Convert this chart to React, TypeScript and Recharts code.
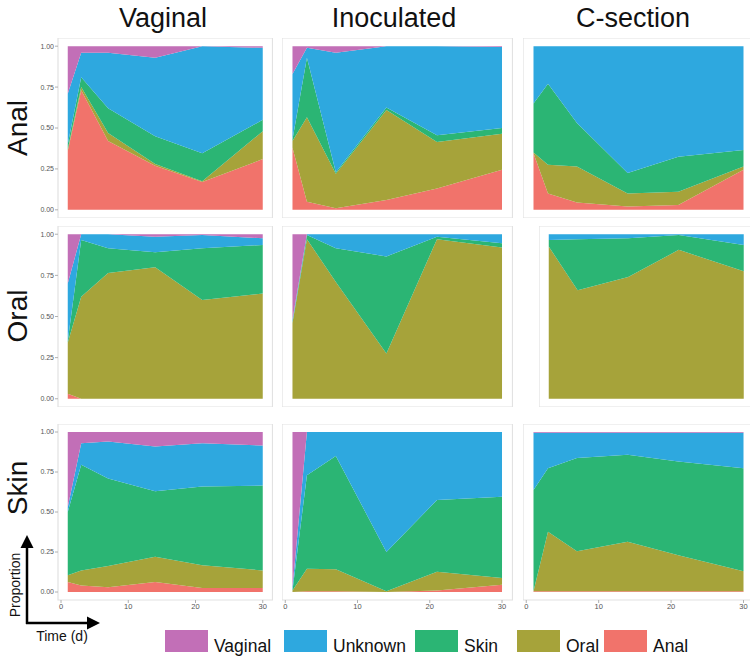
import { AreaChart, Area, XAxis, YAxis, ReferenceArea } from "recharts";

const days = [1, 3, 7, 14, 21, 30];
const daysFrom3 = [3, 7, 14, 21, 30];

// stacking order, bottom to top
const sources = ["Anal", "Oral", "Skin", "Unknown", "Vaginal"];
const legendOrder = ["Vaginal", "Unknown", "Skin", "Oral", "Anal"];
const colors: Record<string, string> = {
  Vaginal: "#c26fb7",
  Unknown: "#2ea8df",
  Skin: "#2bb574",
  Oral: "#a6a33a",
  Anal: "#f1736b",
};

const birthModes = ["Vaginal", "Inoculated", "C-section"];
const sites = ["Anal", "Oral", "Skin"];
const yTicks = [0, 0.25, 0.5, 0.75, 1];
const xTicks = [0, 10, 20, 30];

// anal samples
const analVaginal = {
  Anal: [0.36, 0.73, 0.42, 0.27, 0.17, 0.31],
  Oral: [0.01, 0.02, 0.05, 0.01, 0.005, 0.17],
  Skin: [0.03, 0.06, 0.15, 0.17, 0.17, 0.07],
  Unknown: [0.31, 0.15, 0.34, 0.48, 0.655, 0.44],
  Vaginal: [0.29, 0.04, 0.04, 0.07, 0.0, 0.01],
};
const analInoculated = {
  Anal: [0.38, 0.05, 0.01, 0.06, 0.13, 0.245],
  Oral: [0.04, 0.515, 0.21, 0.55, 0.285, 0.22],
  Skin: [0.01, 0.365, 0.01, 0.015, 0.04, 0.035],
  Unknown: [0.4, 0.06, 0.73, 0.375, 0.545, 0.495],
  Vaginal: [0.17, 0.01, 0.04, 0.0, 0.0, 0.005],
};
const analCsection = {
  Anal: [0.345, 0.1, 0.045, 0.02, 0.03, 0.245],
  Oral: [0.005, 0.175, 0.22, 0.08, 0.08, 0.02],
  Skin: [0.3, 0.495, 0.265, 0.125, 0.215, 0.1],
  Unknown: [0.35, 0.23, 0.47, 0.775, 0.675, 0.635],
  Vaginal: [0, 0, 0, 0, 0, 0],
};

// oral samples
const oralVaginal = {
  Anal: [0.03, 0, 0, 0, 0, 0],
  Oral: [0.31, 0.62, 0.765, 0.8, 0.6, 0.64],
  Skin: [0.01, 0.345, 0.15, 0.09, 0.315, 0.295],
  Unknown: [0.35, 0.035, 0.085, 0.095, 0.08, 0.04],
  Vaginal: [0.3, 0, 0, 0.015, 0.005, 0.025],
};
const oralInoculated = {
  Anal: [0, 0, 0, 0, 0, 0],
  Oral: [0.46, 0.97, 0.71, 0.275, 0.97, 0.92],
  Skin: [0.005, 0.025, 0.205, 0.59, 0.015, 0.025],
  Unknown: [0.015, 0.005, 0.085, 0.135, 0.015, 0.055],
  Vaginal: [0.52, 0, 0, 0, 0, 0],
};
// no day-1 sample here
const oralCsection = {
  Anal: [0, 0, 0, 0, 0],
  Oral: [0.925, 0.66, 0.74, 0.905, 0.775],
  Skin: [0.04, 0.31, 0.235, 0.09, 0.16],
  Unknown: [0.035, 0.03, 0.025, 0.005, 0.065],
  Vaginal: [0, 0, 0, 0, 0],
};

// skin samples
const skinVaginal = {
  Anal: [0.063, 0.04, 0.03, 0.063, 0.025, 0.025],
  Oral: [0.042, 0.095, 0.133, 0.157, 0.142, 0.11],
  Skin: [0.395, 0.66, 0.547, 0.41, 0.493, 0.53],
  Unknown: [0.03, 0.135, 0.23, 0.28, 0.27, 0.25],
  Vaginal: [0.47, 0.07, 0.06, 0.09, 0.07, 0.085],
};
const skinInoculated = {
  Anal: [0, 0.005, 0.005, 0, 0.01, 0.045],
  Oral: [0.01, 0.141, 0.137, 0.004, 0.116, 0.043],
  Skin: [0, 0.584, 0.708, 0.246, 0.449, 0.508],
  Unknown: [0.02, 0.27, 0.15, 0.75, 0.425, 0.404],
  Vaginal: [0.97, 0, 0, 0, 0, 0],
};
const skinCsection = {
  Anal: [0.005, 0.005, 0.005, 0.005, 0.005, 0.005],
  Oral: [0, 0.372, 0.25, 0.309, 0.225, 0.125],
  Skin: [0.633, 0.397, 0.582, 0.544, 0.586, 0.644],
  Unknown: [0.357, 0.221, 0.158, 0.137, 0.179, 0.221],
  Vaginal: [0.005, 0.005, 0.005, 0.005, 0.005, 0.005],
};

const FONT = "'Liberation Sans', Arial, Helvetica, sans-serif";

const colBox = [
  { x: 58.25, w: 214.5 },
  { x: 282, w: 230.5 },
  { x: 522.5, w: 231 },
];
const rowBox = [
  { y: 38, h: 180 },
  { y: 226, h: 181 },
  { y: 424, h: 176 },
];

const panels = [
  { r: 0, c: 0, t: days, vals: analVaginal },
  { r: 0, c: 1, t: days, vals: analInoculated },
  { r: 0, c: 2, t: days, vals: analCsection },
  { r: 1, c: 0, t: days, vals: oralVaginal },
  { r: 1, c: 1, t: days, vals: oralInoculated },
  { r: 1, c: 2, t: daysFrom3, vals: oralCsection, x: 539.25, w: 214.5 },
  { r: 2, c: 0, t: days, vals: skinVaginal },
  { r: 2, c: 1, t: days, vals: skinInoculated },
  { r: 2, c: 2, t: days, vals: skinCsection },
];

function Panel({ x, y, w, h, t, vals, showY, showX }: any) {
  const lo = t[0];
  const hi = t[t.length - 1];
  const pad = (hi - lo) * 0.05;
  const data = t.map((d: number, i: number) => {
    const row: any = { day: d };
    sources.forEach((s) => (row[s] = vals[s][i]));
    return row;
  });
  const yw = showY ? 58 : 0;
  const xh = showX ? 16 : 0;
  return (
    <div style={{ position: "absolute", left: x - yw, top: y }}>
      <AreaChart width={w + yw} height={h + xh} data={data} margin={{ top: 0, right: 0, bottom: 0, left: 0 }}>
        <XAxis
          type="number"
          dataKey="day"
          domain={[lo - pad, hi + pad]}
          allowDataOverflow
          ticks={xTicks}
          interval={0}
          hide={!showX}
          height={xh}
          axisLine={false}
          tickSize={3}
          tickMargin={1}
          tickLine={{ stroke: "#b0b0b0" }}
          tick={{ fontSize: 7.5, fill: "#555", fontFamily: FONT }}
        />
        <YAxis
          type="number"
          domain={[-0.05, 1.05]}
          allowDataOverflow
          ticks={yTicks}
          interval={0}
          hide={!showY}
          width={yw}
          axisLine={false}
          tickSize={3}
          tickMargin={1}
          tickLine={{ stroke: "#b0b0b0" }}
          tick={{ fontSize: 7, fill: "#555", fontFamily: FONT }}
          tickFormatter={(v: number) => v.toFixed(2)}
        />
        <ReferenceArea
          x1={lo - pad}
          x2={hi + pad}
          y1={-0.05}
          y2={1.05}
          fill="#ffffff"
          fillOpacity={0}
          stroke="#e2e2e2"
          strokeWidth={1.2}
          ifOverflow="visible"
        />
        {sources.map((s) => (
          <Area
            key={s}
            type="linear"
            dataKey={s}
            stackId="1"
            stroke="none"
            fill={colors[s]}
            fillOpacity={1}
            isAnimationActive={false}
            activeDot={false}
          />
        ))}
      </AreaChart>
    </div>
  );
}

const titleX = [163, 394, 633];
const rowLabelY = [128, 316, 488];
const legendKeyX = [165, 284, 415, 517, 604];

export default function App() {
  return (
    <div
      style={{
        position: "absolute",
        left: 0,
        top: 0,
        width: 750,
        height: 658,
        overflow: "hidden",
        background: "#fff",
        fontFamily: FONT,
      }}
    >
      {panels.map((p, i) => (
        <Panel
          key={i}
          x={p.x ?? colBox[p.c].x}
          w={p.w ?? colBox[p.c].w}
          y={rowBox[p.r].y}
          h={rowBox[p.r].h}
          t={p.t}
          vals={p.vals}
          showY={p.c === 0}
          showX={p.r === 2}
        />
      ))}
      <svg width={750} height={658} style={{ position: "absolute", left: 0, top: 0, pointerEvents: "none" }}>
        {birthModes.map((m, i) => (
          <text key={m} x={titleX[i]} y={27} textAnchor="middle" fontSize={27} fontFamily={FONT} fill="#111">
            {m}
          </text>
        ))}
        {sites.map((s, i) => (
          <text
            key={s}
            x={27}
            y={rowLabelY[i]}
            textAnchor="middle"
            fontSize={28}
            fontFamily={FONT}
            fill="#111"
            transform={`rotate(-90 27 ${rowLabelY[i]})`}
          >
            {s}
          </text>
        ))}
        {/* axis hint arrows */}
        <line x1={27} y1={624} x2={27} y2={546} stroke="#000" strokeWidth={2.5} />
        <polygon points="27,535 20.5,548 33.5,548" fill="#000" />
        <line x1={26} y1={623} x2={89} y2={623} stroke="#000" strokeWidth={2.5} />
        <polygon points="100,623 87,616.5 87,629.5" fill="#000" />
        <text x={20} y={585} textAnchor="middle" fontSize={14} fontFamily={FONT} fill="#111" transform="rotate(-90 20 585)">
          Proportion
        </text>
        <text x={62} y={641} textAnchor="middle" fontSize={14} fontFamily={FONT} fill="#111">
          Time (d)
        </text>
        {legendOrder.map((s, i) => (
          <g key={s}>
            <rect x={legendKeyX[i]} y={630} width={43} height={22} fill={colors[s]} />
            <text x={legendKeyX[i] + 49} y={652} fontSize={17.5} fontFamily={FONT} fill="#111">
              {s}
            </text>
          </g>
        ))}
      </svg>
    </div>
  );
}
